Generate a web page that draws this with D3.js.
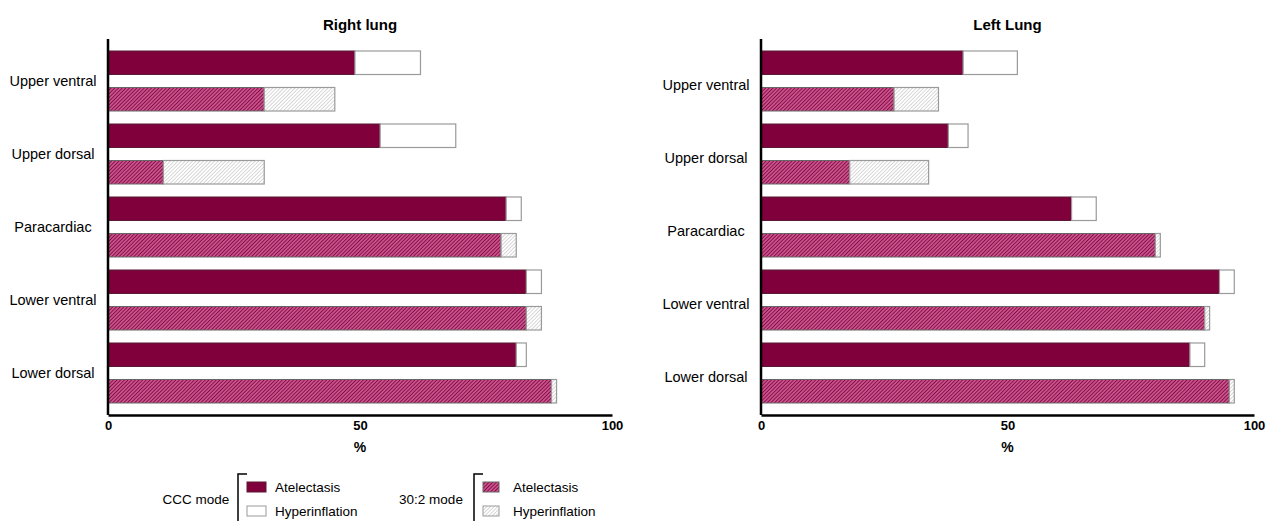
<!DOCTYPE html>
<html>
<head>
<meta charset="utf-8">
<script src="https://cdn.jsdelivr.net/npm/d3@7"></script>
<style>
  body { margin: 0; background: #fff; }
  text { font-family: "Liberation Sans", Arial, sans-serif; fill: #000; }
</style>
</head>
<body>
<script>
// regions of the lung (top to bottom)
const regions = ["Upper ventral", "Upper dorsal", "Paracardiac", "Lower ventral", "Lower dorsal"];
const modes = ["CCC", "30:2"];

// % of lung region
const rightCccAtel  = [49, 54, 79, 83, 81];
const rightCccHyper = [13, 15, 3, 3, 2];
const right302Atel  = [31, 11, 78, 83, 88];
const right302Hyper = [14, 20, 3, 3, 1];

const leftCccAtel  = [41, 38, 63, 93, 87];
const leftCccHyper = [11, 4, 5, 3, 3];
const left302Atel  = [27, 18, 80, 90, 95];
const left302Hyper = [9, 16, 1, 1, 1];

const xTicks = [0, 50, 100];

var width = 1266, height = 521;
var svg = d3.select("body").append("svg")
    .attr("width", width)
    .attr("height", height);

// hatch patterns for the 30:2 mode
var defs = svg.append("defs");
function hatch(id, bg, line, lw, step) {
  var p = defs.append("pattern")
      .attr("id", id)
      .attr("patternUnits", "userSpaceOnUse")
      .attr("width", step).attr("height", step)
      .attr("patternTransform", "rotate(45)");
  p.append("rect").attr("width", step).attr("height", step).attr("fill", bg);
  p.append("line").attr("x1", 0).attr("y1", 0).attr("x2", 0).attr("y2", step)
      .attr("stroke", line).attr("stroke-width", lw);
}
hatch("hatchAtel", "#c9528c", "#760036", 1.5, 2.6);
hatch("hatchHyper", "#ffffff", "#a8a8a8", 0.9, 2.6);

const fills = {
  CCC: { atel: "#7f003b", hyper: "#ffffff" },
  "30:2": { atel: "url(#hatchAtel)", hyper: "url(#hatchHyper)" }
};

function drawPanel(title, x0, x1, atel, hyper, labelShift) {
  var yTop = 39, yBottom = 415;
  var x = d3.scaleLinear().domain([0, 100]).range([x0, x1]);
  var y0 = d3.scaleBand().domain(regions).range([44.5, 409.5]);
  var y1 = d3.scaleBand().domain(modes).range([0, y0.bandwidth()])
      .paddingInner(0.356).paddingOuter(0.178);

  var g = svg.append("g");

  g.append("text")
    .attr("x", (x0 + x1) / 2).attr("y", 25)
    .attr("text-anchor", "middle").attr("dy", "0.35em")
    .style("font-size", "15px").style("font-weight", "bold")
    .text(title);

  // bars
  modes.forEach((m) => {
    regions.forEach((r, i) => {
      var yy = y0(r) + y1(m);
      var a = atel[m][i], h = hyper[m][i];
      g.append("rect")
        .attr("x", x(0)).attr("y", yy)
        .attr("width", x(a) - x(0)).attr("height", y1.bandwidth())
        .attr("fill", fills[m].atel)
        .attr("stroke", m == "CCC" ? "#5a1a35" : "#666")
        .attr("stroke-width", 1);
      g.append("rect")
        .attr("x", x(a)).attr("y", yy)
        .attr("width", x(a + h) - x(a)).attr("height", y1.bandwidth())
        .attr("fill", fills[m].hyper)
        .attr("stroke", "#9a9a9a")
        .attr("stroke-width", 1.2);
    });
  });

  // region labels
  regions.forEach((r) => {
    g.append("text")
      .attr("x", x0 - 55).attr("y", y0(r) + y0.bandwidth() / 2 + labelShift)
      .attr("text-anchor", "middle").attr("dy", "0.35em")
      .style("font-size", "14.5px")
      .text(r);
  });

  // axes
  g.append("line")
    .attr("x1", x0).attr("x2", x0).attr("y1", yTop).attr("y2", yBottom)
    .attr("stroke", "#000").attr("stroke-width", 2.5);

  var ax = g.append("g")
    .attr("transform", `translate(0, ${yBottom})`)
    .call(d3.axisBottom(x).tickValues(xTicks).tickSize(0).tickSizeOuter(0).tickPadding(6));
  ax.select(".domain").attr("stroke", "#000").attr("stroke-width", 2.5);
  ax.selectAll("text")
    .style("font-family", '"Liberation Sans", Arial, sans-serif')
    .style("font-size", "13px").style("font-weight", "bold").attr("fill", "#000");

  g.append("text")
    .attr("x", (x0 + x1) / 2).attr("y", 447)
    .attr("text-anchor", "middle").attr("dy", "0.35em")
    .style("font-size", "14px").style("font-weight", "bold")
    .text("%");
}

drawPanel("Right lung", 108, 612,
  { CCC: rightCccAtel, "30:2": right302Atel },
  { CCC: rightCccHyper, "30:2": right302Hyper }, 0);
drawPanel("Left Lung", 761, 1254,
  { CCC: leftCccAtel, "30:2": left302Atel },
  { CCC: leftCccHyper, "30:2": left302Hyper }, 4);

// legend
var legendGroups = [
  { label: "CCC mode", tx: 196, bx: 238, sx: 247, m: "CCC" },
  { label: "30:2 mode", tx: 431, bx: 474, sx: 483, m: "30:2" }
];
legendGroups.forEach((l) => {
  var lg = svg.append("g");
  lg.append("text")
    .attr("x", l.tx).attr("y", 499).attr("dy", "0.35em")
    .attr("text-anchor", "middle")
    .style("font-size", "13.5px")
    .text(l.label);
  lg.append("path")
    .attr("d", `M${l.bx + 9},${474} H${l.bx} V${521}`)
    .attr("fill", "none").attr("stroke", "#000").attr("stroke-width", 1.5);
  [["Atelectasis", "atel", 487], ["Hyperinflation", "hyper", 511]].forEach((e) => {
    lg.append("rect")
      .attr("x", l.sx).attr("y", e[2] - 5)
      .attr("width", l.m == "CCC" ? 19 : 16).attr("height", 10)
      .attr("fill", fills[l.m][e[1]])
      .attr("stroke", e[1] == "atel" ? (l.m == "CCC" ? "#5a1a35" : "#666") : "#9a9a9a")
      .attr("stroke-width", 1);
    lg.append("text")
      .attr("x", l.sx + (l.m == "CCC" ? 28 : 30)).attr("y", e[2]).attr("dy", "0.35em")
      .style("font-size", "13.5px")
      .text(e[0]);
  });
});
</script>
</body>
</html>
